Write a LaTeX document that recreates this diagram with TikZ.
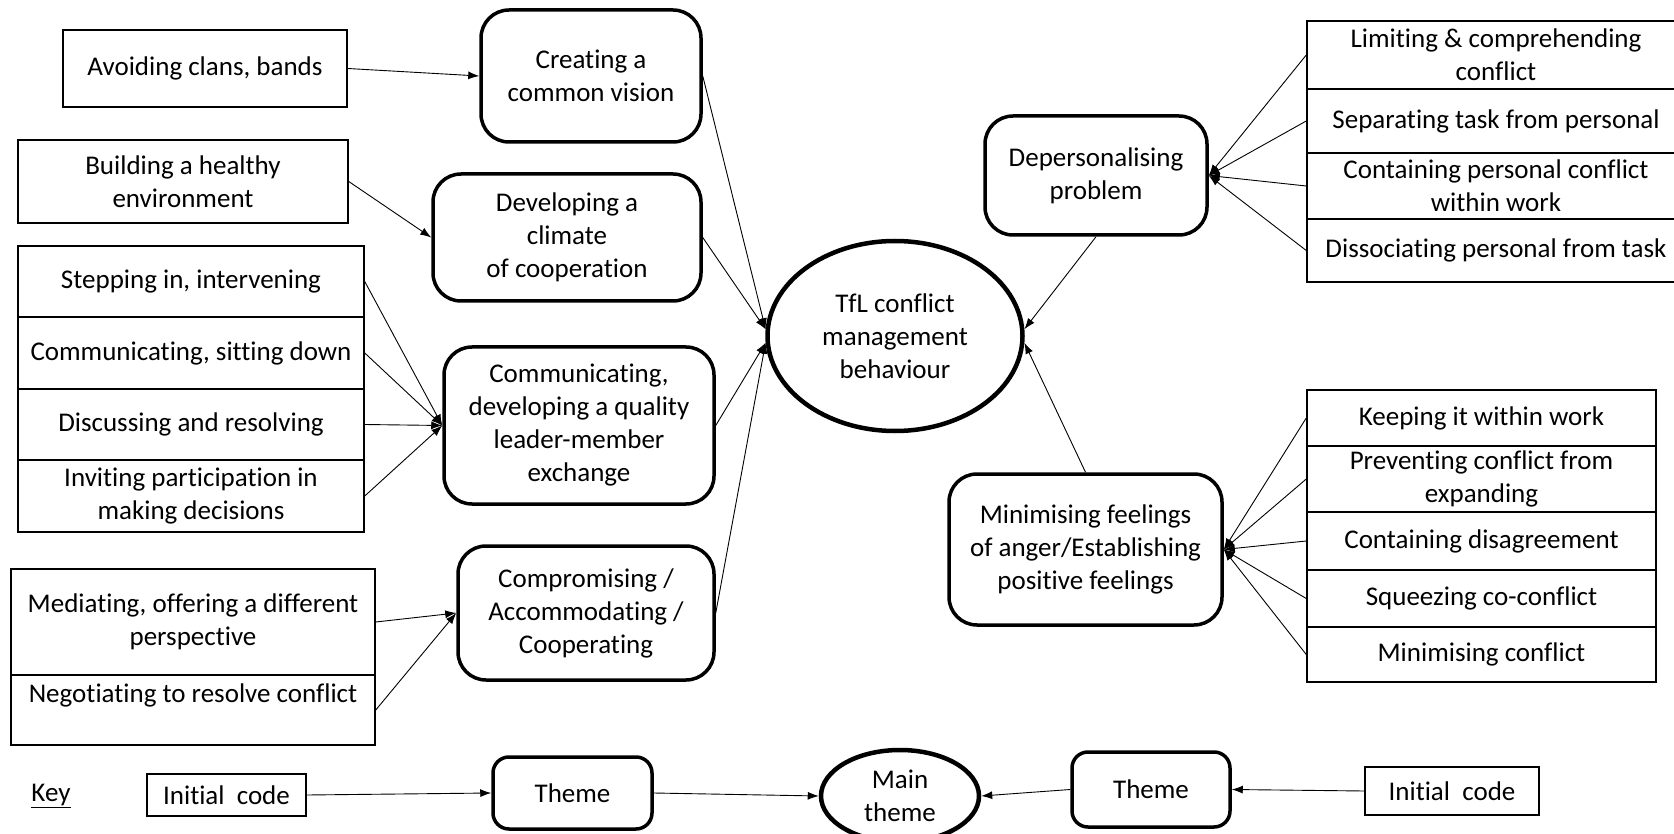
\documentclass[tikz,border=0pt]{standalone}
\usepackage{fontspec}
\setmainfont{Carlito}[Ligatures=NoCommon]
\usetikzlibrary{arrows.meta,shapes.geometric}
\begin{document}
\begin{tikzpicture}[x=1pt,y=-1pt,
  every node/.style={font=\fontsize{27}{33}\selectfont, align=center, inner sep=0pt},
  wh/.style 2 args={minimum width=#1pt, minimum height=#2pt},
  code/.style={draw, line width=1.5pt},
  theme/.style={draw, line width=3.5pt, rounded corners=28pt},
  keytheme/.style={draw, line width=3.5pt, rounded corners=16pt},
  mainth/.style={draw, ellipse, line width=4.5pt},
  link/.style={line width=0.9pt, -{Latex[length=11pt,width=8pt]}},
  ]
\useasboundingbox (0,0) rectangle (1674,834);
\clip (0,0) rectangle (1674,834);

% initial codes, left side
\node[code, wh={284}{77}] (avoid) at (205,68.5) {Avoiding clans, bands};
\node[code, wh={330}{83}] (build) at (183,181.5) {Building a healthy\\environment};
\node[code, wh={346}{71}] (c1) at (191,281.5) {Stepping in, intervening};
\node[code, wh={346}{72}] (c2) at (191,353) {Communicating, sitting down};
\node[code, wh={346}{71}] (c3) at (191,424.5) {Discussing and resolving};
\node[code, wh={346}{72}] (c4) at (191,496) {Inviting participation in\\making decisions};
\node[code, wh={364}{106}] (m1) at (193,622) {Mediating, offering a different\\perspective};
\node[code, wh={364}{70}] (m2) at (193,710) {Negotiating to resolve conflict\\\mbox{}};

% themes
\node[theme, wh={220}{132}] (tCreate) at (591,76) {Creating a\\common vision};
\node[theme, wh={268}{127}] (tClimate) at (567,237.5) {Developing a\\climate\\of cooperation};
\node[theme, wh={270}{157}] (tComm) at (579,425.5) {Communicating,\\developing a quality\\leader-member\\exchange};
\node[theme, wh={256}{134}] (tComp) at (586,613) {Compromising /\\Accommodating /\\Cooperating};
\node[theme, wh={222}{119}] (tDepers) at (1096,175.5) {Depersonalising\\problem};
\node[theme, wh={273}{151}] (tFeel) at (1085.5,549.5) {Minimising feelings\\of anger/Establishing\\positive feelings};

% main theme
\node[mainth, wh={255}{190}] (core) at (895,336) {TfL conflict\\management\\behaviour};

% initial codes, right side
\node[code, wh={378}{68}] (r1) at (1496,55) {Limiting \& comprehending\\conflict};
\node[code, wh={378}{64}] (r2) at (1496,121) {Separating task from personal};
\node[code, wh={378}{66}] (r3) at (1496,186) {Containing personal conflict\\within work};
\node[code, wh={378}{63}] (r4) at (1496,250.5) {Dissociating personal from task};
\node[code, wh={349}{56}] (s1) at (1481.5,418) {Keeping it within work};
\node[code, wh={349}{66}] (s2) at (1481.5,479) {Preventing conflict from\\expanding};
\node[code, wh={349}{58}] (s3) at (1481.5,541) {Containing disagreement};
\node[code, wh={349}{57}] (s4) at (1481.5,598.5) {Squeezing co-conflict};
\node[code, wh={349}{55}] (s5) at (1481.5,654.5) {Minimising conflict};

% key
\node (keylbl) at (51,796) {\underline{Key}};
\node[code, wh={159}{42}] (kInit) at (226.5,795) {Initial\ \ code};
\node[keytheme, wh={159}{72}] (kTheme) at (572.5,793) {Theme};
\node[mainth, wh={158}{92}] (kMain) at (900,796) {Main\\theme};
\node[keytheme, wh={158}{75}] (kTheme2) at (1151,789.5) {Theme};
\node[code, wh={174}{48}] (kInit2) at (1452,791) {Initial\ \ code};

% connectors
\draw[link] (avoid.east) -- (tCreate.west);
\draw[link] (build.east) -- (tClimate.west);
\foreach \n in {c1,c2,c3,c4} \draw[link] (\n.east) -- (tComm.west);
\foreach \n in {m1,m2} \draw[link] (\n.east) -- (tComp.west);
\draw[link] (tCreate.east) -- (core.177);
\draw[link] (tClimate.east) -- (core.177);
\draw[link] (tComm.east) -- (core.183);
\draw[link] (tComp.east) -- (core.183);
\draw[link] (tDepers.south) -- (core.3);
\draw[link] (tFeel.north) -- (core.357);
\foreach \n in {r1,r2,r3,r4} \draw[link] (\n.west) -- (tDepers.east);
\foreach \n in {s1,s2,s3,s4,s5} \draw[link] (\n.west) -- (tFeel.east);
\draw[link] (kInit.east) -- (kTheme.west);
\draw[link] (kTheme.east) -- (kMain.west);
\draw[link] (kTheme2.west) -- (kMain.east);
\draw[link] (kInit2.west) -- (kTheme2.east);
\end{tikzpicture}
\end{document}
